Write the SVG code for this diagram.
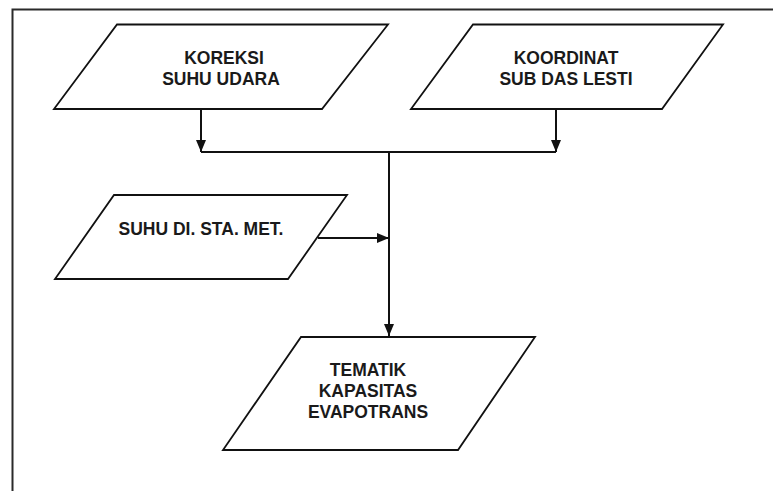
<svg xmlns="http://www.w3.org/2000/svg" width="773" height="491" viewBox="0 0 773 491">
  <defs>
    <style>
      .frame { fill: none; stroke: #2a2a2a; stroke-width: 2; }
      .io { fill: #ffffff; stroke: #111111; stroke-width: 1.8; stroke-linejoin: miter; }
      .lbl { font-family: "Liberation Sans", Arial, Helvetica, sans-serif; font-weight: bold; font-size: 17.5px; fill: #1a1a1a; text-anchor: middle; }
      .conn { fill: none; stroke: #111111; stroke-width: 2; }
    </style>
    <marker id="arrow" viewBox="0 0 12 10" refX="12" refY="5" markerWidth="12" markerHeight="10" markerUnits="userSpaceOnUse" orient="auto">
      <path d="M0,0 L12,5 L0,10 Z" fill="#111111"/>
    </marker>
  </defs>

  <rect width="773" height="491" fill="#ffffff"/>

  <!-- outer border -->
  <path class="frame" d="M12.5,492 L12.5,9.5 L774,9.5"/>

  <!-- data input: air temperature correction -->
  <g id="koreksi-suhu-udara">
    <polygon class="io" points="117,24.5 388,24.5 322,109 54,109"/>
    <text class="lbl" x="224" y="63.5">KOREKSI</text>
    <text class="lbl" x="221" y="84.5">SUHU UDARA</text>
  </g>

  <!-- data input: sub-watershed coordinates -->
  <g id="koordinat-sub-das">
    <polygon class="io" points="473,24.5 723,24.5 662,109 411,109"/>
    <text class="lbl" x="566" y="63.5">KOORDINAT</text>
    <text class="lbl" x="566" y="84.5">SUB DAS LESTI</text>
  </g>

  <!-- data input: station temperature -->
  <g id="suhu-sta-met">
    <polygon class="io" points="114,195 347,195 288,279 55,279"/>
    <text class="lbl" x="201" y="235">SUHU DI. STA. MET.</text>
  </g>

  <!-- output: thematic evapotranspiration capacity -->
  <g id="tematik-kapasitas">
    <polygon class="io" points="301,337 535,337 458,450 223,450"/>
    <text class="lbl" x="368" y="376">TEMATIK</text>
    <text class="lbl" x="368" y="397">KAPASITAS</text>
    <text class="lbl" x="368" y="418">EVAPOTRANS</text>
  </g>

  <!-- connectors -->
  <g id="connectors">
    <line class="conn" x1="201" y1="109" x2="201" y2="152" marker-end="url(#arrow)"/>
    <line class="conn" x1="556" y1="109" x2="556" y2="152" marker-end="url(#arrow)"/>
    <line class="conn" x1="201" y1="152" x2="556" y2="152"/>
    <line class="conn" x1="389" y1="152" x2="389" y2="336" marker-end="url(#arrow)"/>
    <line class="conn" x1="318" y1="238" x2="389" y2="238" marker-end="url(#arrow)"/>
  </g>
</svg>
